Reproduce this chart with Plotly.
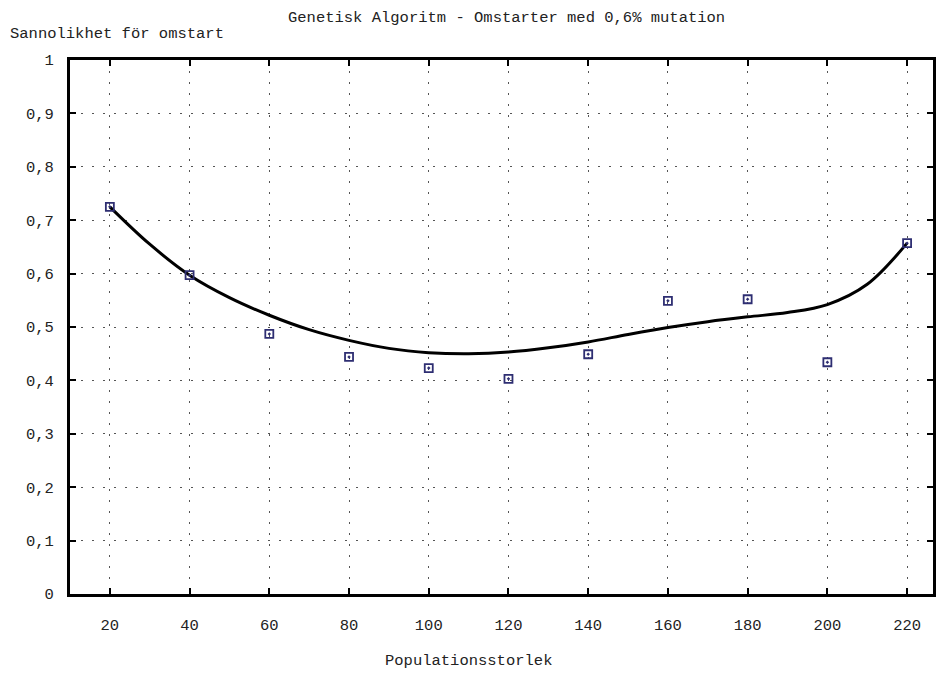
import plotly.graph_objects as go

# Measured points
pop_sizes = [20, 40, 60, 80, 100, 120, 140, 160, 180, 200, 220]
restart_prob = [0.725, 0.597, 0.487, 0.444, 0.423, 0.403, 0.449, 0.549, 0.552, 0.434, 0.657]

# Fitted smooth curve
curve_x = [20, 30, 40, 50, 60, 70, 80, 90, 100, 110, 120, 130, 140, 150, 160, 170, 180, 190, 200, 210, 220]
curve_y = [0.725, 0.655, 0.597, 0.555, 0.522, 0.495, 0.475, 0.460, 0.452, 0.450, 0.453, 0.461, 0.472,
           0.486, 0.499, 0.510, 0.519, 0.527, 0.542, 0.580, 0.657]

x_ticks = [20, 40, 60, 80, 100, 120, 140, 160, 180, 200, 220]
y_ticks = [0, 0.1, 0.2, 0.3, 0.4, 0.5, 0.6, 0.7, 0.8, 0.9, 1]

title_text = "Genetisk Algoritm - Omstarter med 0,6% mutation"
y_title = "Sannolikhet för omstart"
x_title = "Populationsstorlek"

FONT = "Liberation Mono"
FSIZE = 15.5

fig = go.Figure()
fig.add_trace(go.Scatter(
    x=curve_x, y=curve_y, mode="lines", line=dict(color="black", width=3, shape="spline", smoothing=1.0),
    showlegend=False, hoverinfo="skip"))
fig.add_trace(go.Scatter(
    x=pop_sizes, y=restart_prob, mode="markers",
    marker=dict(symbol="square-open-dot", size=8, color="#2e2e72", line=dict(width=1.8, color="#2e2e72")),
    showlegend=False))

axis_common = dict(
    showline=True, linecolor="black", linewidth=3, mirror="ticks",
    ticks="inside", ticklen=6, tickwidth=2, tickcolor="black",
    showgrid=True, gridcolor="#555555", gridwidth=1.3, griddash="2px,9px",
    zeroline=False, tickfont=dict(family=FONT, size=FSIZE, color="#222222"),
)

fig.update_layout(
    width=936, height=675,
    margin=dict(l=70, r=0, t=60, b=81),
    paper_bgcolor="white", plot_bgcolor="white",
    separators=",.",
    font=dict(family=FONT, size=FSIZE, color="#222222"),
    xaxis=dict(range=[10, 226.5], tickvals=x_ticks, ticktext=[str(v) for v in x_ticks],
               ticklabelstandoff=14, **axis_common),
    yaxis=dict(range=[0, 1], tickvals=y_ticks, ticklabelstandoff=10, **axis_common),
    annotations=[
        dict(text=title_text, x=508, y=18, xref="paper", yref="paper", showarrow=False),
        dict(text=y_title, x=8, y=34, xref="paper", yref="paper", showarrow=False, xanchor="left"),
        dict(text=x_title, x=470, y=661, xref="paper", yref="paper", showarrow=False),
    ],
)

# convert pixel positions of annotations into paper coordinates
pw, ph = 936 - 70, 675 - 60 - 81
for a in fig.layout.annotations:
    px, py = a.x, a.y
    a.x = (px - 70) / pw
    a.y = 1 - (py - 60) / ph
    a.yanchor = "middle"

fig.write_html("out.html")
